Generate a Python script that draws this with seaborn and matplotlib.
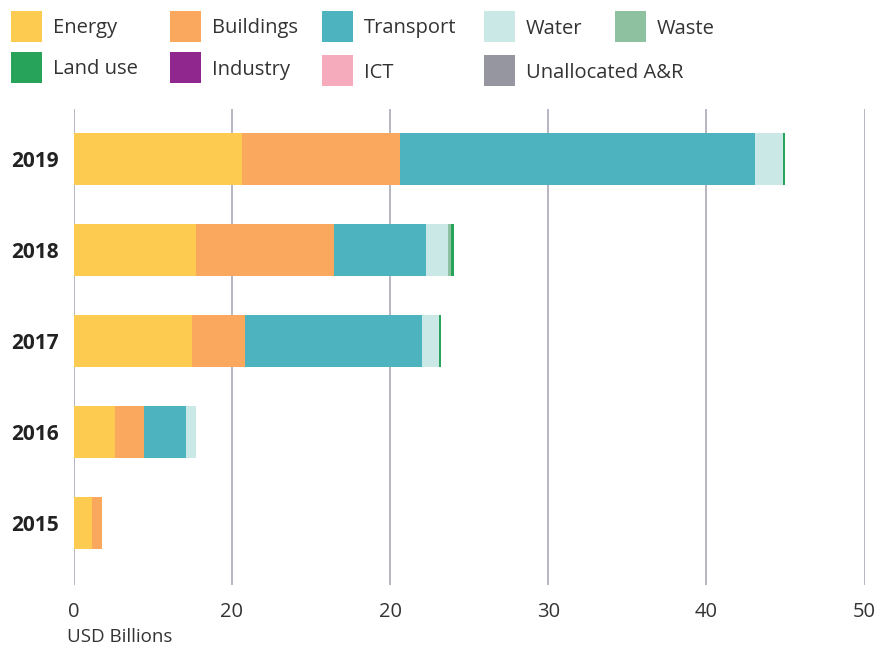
import pandas as pd
import numpy as np
import matplotlib
matplotlib.use("Agg")
import matplotlib.pyplot as plt
from matplotlib.patches import Rectangle
import seaborn as sns

# Données (USD milliards)
years = ["2019", "2018", "2017", "2016", "2015"]
sectors = ["Energy", "Buildings", "Transport", "Water", "Waste",
           "Land use", "Industry", "ICT", "Unallocated A&R"]
energy = [10.62, 7.73, 7.48, 2.60, 1.14]
buildings = [10.01, 8.73, 3.35, 1.83, 0.63]
transport = [22.44, 5.82, 11.20, 2.66, 0.0]
water = [1.77, 1.39, 1.07, 0.63, 0.0]
waste = [0.0, 0.19, 0.0, 0.0, 0.0]
land_use = [0.13, 0.19, 0.13, 0.0, 0.0]
industry = [0.0, 0.0, 0.0, 0.0, 0.0]
ict = [0.0, 0.0, 0.0, 0.0, 0.0]
unallocated = [0.0, 0.0, 0.0, 0.0, 0.0]

colors = ["#FDCB4F", "#F9A85E", "#4DB3BF", "#C9E8E6", "#8DC19F",
          "#27A35A", "#90278E", "#F5ABBB", "#9596A0"]

xtick_values = [0, 10, 20, 30, 40, 50]
xtick_labels = ["0", "20", "20", "30", "40", "50"]

### Mise en forme ###
sns.set_theme(style="white")
plt.rcParams["font.family"] = ["Open Sans", "DejaVu Sans"]
text_color = "#333333"

df = pd.DataFrame({"year": years, "Energy": energy, "Buildings": buildings,
                   "Transport": transport, "Water": water, "Waste": waste,
                   "Land use": land_use, "Industry": industry, "ICT": ict,
                   "Unallocated A&R": unallocated})
cum = df[sectors].cumsum(axis=1)

fig = plt.figure(figsize=(8.93, 6.52), dpi=100)
ax = fig.add_axes([73.7 / 893, 1 - 585 / 652, (864.5 - 73.7) / 893, (585 - 109) / 652])

# Barres empilées : on dessine les cumuls du plus grand au plus petit
for sector, color in reversed(list(zip(sectors, colors))):
    layer = pd.DataFrame({"year": years, "value": cum[sector]})
    sns.barplot(data=layer, x="value", y="year", order=years, color=color,
                saturation=1, width=0.57, orient="h", ax=ax, zorder=3,
                linewidth=0, edgecolor="none")

ax.set_xlim(0, 50)
ax.set_ylim(4.68, -0.55)
ax.set_xticks(xtick_values)
ax.set_xticklabels(xtick_labels, fontsize=14.5, color=text_color)
ax.set_yticklabels(years, fontsize=15, fontweight="bold", color="#222222")
ax.tick_params(axis="x", length=0, pad=12)
ax.tick_params(axis="y", length=0, pad=11)
ax.set_xlabel("")
ax.set_ylabel("")
for side in ["top", "right", "bottom", "left"]:
    ax.spines[side].set_visible(False)
for xv in xtick_values:
    ax.axvline(xv, color="#a9a8b6", lw=1.2, zorder=1)

fig.text(67 / 893, 1 - 637 / 652, "USD Billions", fontsize=13.5,
         color=text_color, va="center", ha="left")

# Légende placée à la main (deux rangées)
legend_pos = {
    "Energy": (11, 11), "Buildings": (170, 11), "Transport": (322, 11),
    "Water": (484, 11), "Waste": (615, 11),
    "Land use": (11, 52), "Industry": (170, 52), "ICT": (322, 55),
    "Unallocated A&R": (484, 55),
}
size = 31
for sector, color in zip(sectors, colors):
    px, py = legend_pos[sector]
    fig.add_artist(Rectangle((px / 893, 1 - (py + size) / 652), size / 893, size / 652,
                             transform=fig.transFigure, color=color, lw=0))
    fig.text((px + size + 11) / 893, 1 - (py + size / 2 + 2) / 652, sector,
             fontsize=14.5, color=text_color, va="center", ha="left")

fig.savefig("out.png", dpi=100)
